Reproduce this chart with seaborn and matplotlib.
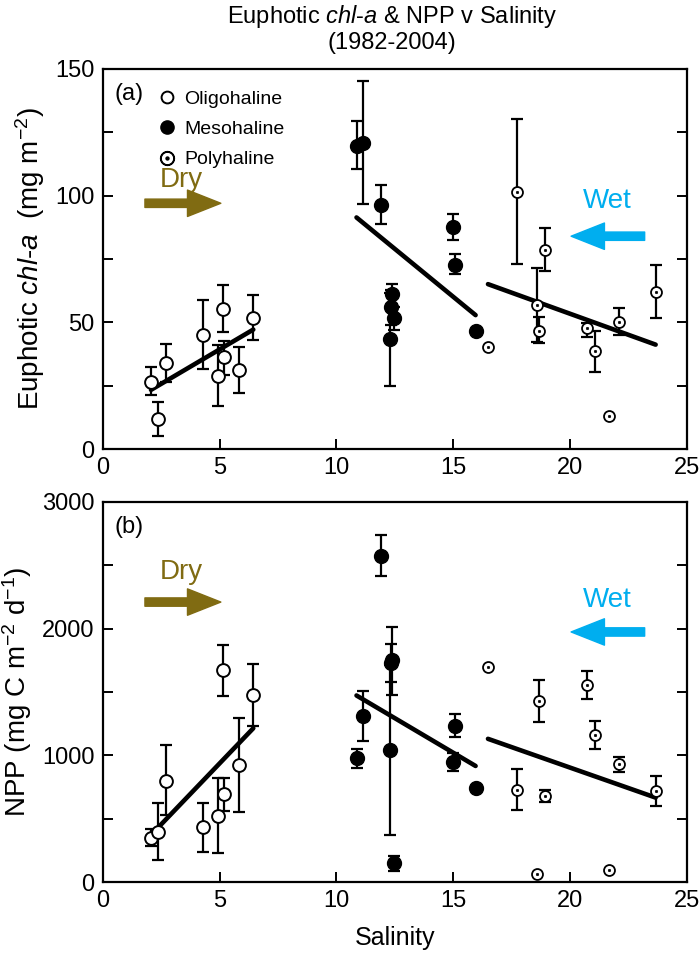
import numpy as np
import matplotlib
matplotlib.use("Agg")
import matplotlib.pyplot as plt
import seaborn as sns
from matplotlib.lines import Line2D
from matplotlib.ticker import MultipleLocator

# salinity of each station group
oligo_x = [2.06, 2.34, 2.70, 4.30, 4.95, 5.15, 5.18, 5.84, 6.44]
meso_x = [10.86, 11.15, 11.89, 12.29, 12.33, 12.40, 12.48, 15.00, 15.09, 15.96]
poly_x = [16.49, 17.72, 18.60, 18.66, 18.93, 20.74, 21.07, 21.68, 22.10, 23.67]

# (a) euphotic chl-a, with error bar bounds (nan = no bar)
nan = np.nan
oligo_chl = [26.6, 11.8, 34.1, 45.1, 28.8, 55.4, 36.2, 31.3, 51.8]
oligo_chl_hi = [32.2, 18.7, 41.3, 58.8, 41.0, 64.9, 42.8, 40.4, 60.8]
oligo_chl_lo = [21.3, 5.1, 26.6, 31.6, 17.0, 46.3, 29.2, 22.2, 43.0]
meso_chl = [119.7, 120.9, 96.4, 43.3, 56.0, 61.2, 51.6, 87.8, 72.8, 46.7]
meso_chl_hi = [129.5, 145.3, 104.1, 61.5, 62.8, 65.1, 56.2, 92.9, 76.9, nan]
meso_chl_lo = [110.5, 96.7, 88.9, 24.9, 49.0, 57.3, 47.0, 82.6, 69.1, nan]
poly_chl = [40.1, 101.6, 56.8, 46.7, 78.6, 47.6, 38.7, 13.0, 50.0, 62.1]
poly_chl_hi = [nan, 130.3, 71.3, 52.2, 87.1, 49.6, 46.7, nan, 55.5, 72.6]
poly_chl_lo = [nan, 73.0, 42.4, 41.7, 70.3, 44.3, 30.4, nan, 45.0, 51.8]

# (b) NPP
oligo_npp = [350, 397, 800, 432, 524, 1674, 692, 924, 1476]
oligo_npp_hi = [416, 621, 1082, 626, 823, 1873, 823, 1295, 1721]
oligo_npp_lo = [284, 174, 529, 239, 226, 1471, 563, 555, 1232]
meso_npp = [976, 1311, 2576, 1042, 1726, 1750, 147, 950, 1232, 740]
meso_npp_hi = [1047, 1508, 2740, 1712, 1876, 2011, 208, 1016, 1324, nan]
meso_npp_lo = [902, 1113, 2418, 371, 1581, 1476, 87, 876, 1145, nan]
poly_npp = [1700, 726, 63, 1429, 679, 1555, 1160, 95, 929, 721]
poly_npp_hi = [nan, 890, nan, 1595, 726, 1666, 1271, nan, 984, 839]
poly_npp_lo = [nan, 568, nan, 1265, 629, 1442, 1047, nan, 871, 602]

DRY = "#806B12"
WET = "#00AEEF"

sns.set_theme(style="ticks")
plt.rcParams["font.family"] = ["Liberation Sans", "DejaVu Sans"]
plt.rcParams["mathtext.fontset"] = "custom"
plt.rcParams["mathtext.rm"] = "Liberation Sans"
plt.rcParams["mathtext.it"] = "Liberation Sans:italic"
for key in ["text.color", "axes.labelcolor", "xtick.color", "ytick.color", "axes.edgecolor"]:
    plt.rcParams[key] = "black"


def draw_errors(ax, x, y, hi, lo):
    x, y, hi, lo = map(np.asarray, (x, y, hi, lo))
    ok = ~np.isnan(hi)
    ax.errorbar(x[ok], y[ok], yerr=[y[ok] - lo[ok], hi[ok] - y[ok]], fmt="none",
                ecolor="black", elinewidth=1.6, capsize=4.5, capthick=1.6, zorder=2)


def draw_group(ax, x, y, hi, lo, kind):
    draw_errors(ax, x, y, hi, lo)
    if kind == "oligo":
        sns.scatterplot(x=x, y=y, ax=ax, marker="o", s=85, color="white",
                        edgecolor="black", linewidth=1.4, zorder=4)
    elif kind == "meso":
        sns.scatterplot(x=x, y=y, ax=ax, marker="o", s=100, color="black",
                        edgecolor="black", linewidth=1, zorder=4)
    else:
        sns.scatterplot(x=x, y=y, ax=ax, marker="o", s=62, color="white",
                        edgecolor="black", linewidth=1.3, zorder=4)
        sns.scatterplot(x=x, y=y, ax=ax, marker="o", s=3, color="black",
                        edgecolor="black", linewidth=0.5, zorder=5)
    sns.regplot(x=x, y=y, ax=ax, scatter=False, ci=None, truncate=True,
                line_kws=dict(color="black", lw=3.3, zorder=3))


def arrow(ax, tail, tip, color):
    ax.annotate("", xy=tip, xytext=tail,
                arrowprops=dict(arrowstyle="simple,head_length=1.2,head_width=0.95,tail_width=0.3",
                                mutation_scale=20, color=color, shrinkA=0, shrinkB=0))


fig = plt.figure(figsize=(7, 9.65), dpi=100)
ax1 = fig.add_axes([0.147, 0.5347, 0.834, 0.3938])
ax2 = fig.add_axes([0.147, 0.086, 0.834, 0.3938])

draw_group(ax1, oligo_x, oligo_chl, oligo_chl_hi, oligo_chl_lo, "oligo")
draw_group(ax1, meso_x, meso_chl, meso_chl_hi, meso_chl_lo, "meso")
draw_group(ax1, poly_x, poly_chl, poly_chl_hi, poly_chl_lo, "poly")

draw_group(ax2, oligo_x, oligo_npp, oligo_npp_hi, oligo_npp_lo, "oligo")
draw_group(ax2, meso_x, meso_npp, meso_npp_hi, meso_npp_lo, "meso")
draw_group(ax2, poly_x, poly_npp, poly_npp_hi, poly_npp_lo, "poly")

for ax, ymax, major in [(ax1, 150, 50), (ax2, 3000, 1000)]:
    ax.set_xlim(0, 25)
    ax.set_ylim(0, ymax)
    ax.xaxis.set_major_locator(MultipleLocator(5))
    ax.yaxis.set_major_locator(MultipleLocator(major))
    ax.yaxis.set_minor_locator(MultipleLocator(major / 2))
    ax.tick_params(axis="both", which="both", direction="in", length=7, width=1.4,
                   labelsize=17, right=True, top=False, pad=6)
    for sp in ax.spines.values():
        sp.set_visible(True)
        sp.set_linewidth(1.6)
        sp.set_color("black")

ax1.set_ylabel("Euphotic $\\mathit{chl}$-$\\mathit{a}$  (mg m$^{-2}$)", fontsize=20, labelpad=6)
ax2.set_ylabel("NPP (mg C m$^{-2}$ d$^{-1}$)", fontsize=20, labelpad=6)
ax2.set_xlabel("Salinity", fontsize=18, labelpad=10)
ax1.set_xlabel("")

fig.suptitle("Euphotic $\\mathit{chl}$-$\\mathit{a}$ & NPP v Salinity\n(1982-2004)",
             x=0.56, y=0.997, va="top", fontsize=17, linespacing=1.1)

ax1.text(0.02, 0.935, "(a)", transform=ax1.transAxes, fontsize=17, va="center")
ax2.text(0.02, 0.935, "(b)", transform=ax2.transAxes, fontsize=17, va="center")

handles = [
    Line2D([], [], ls="none", marker="o", ms=8.5, mfc="white", mec="black", mew=1.4),
    Line2D([], [], ls="none", marker="o", ms=9.5, mfc="black", mec="black"),
    Line2D([], [], ls="none", marker="$\\odot$", ms=10, color="black"),
]
ax1.legend(handles, ["Oligohaline", "Mesohaline", "Polyhaline"], loc="upper left",
           bbox_to_anchor=(0.06, 0.99), frameon=False, fontsize=14, handletextpad=0.3,
           labelspacing=0.65, handlelength=1.2)

# dry / wet annotations
ax1.text(3.35, 106, "Dry", color=DRY, fontsize=20, ha="center", va="center")
arrow(ax1, (1.8, 97), (5.05, 97), DRY)
ax1.text(21.6, 98, "Wet", color=WET, fontsize=20, ha="center", va="center")
arrow(ax1, (23.2, 84), (20.05, 84), WET)

ax2.text(3.35, 2445, "Dry", color=DRY, fontsize=20, ha="center", va="center")
arrow(ax2, (1.8, 2210), (5.05, 2210), DRY)
ax2.text(21.6, 2226, "Wet", color=WET, fontsize=20, ha="center", va="center")
arrow(ax2, (23.2, 1974), (20.05, 1974), WET)

fig.savefig("out.png", dpi=100)
